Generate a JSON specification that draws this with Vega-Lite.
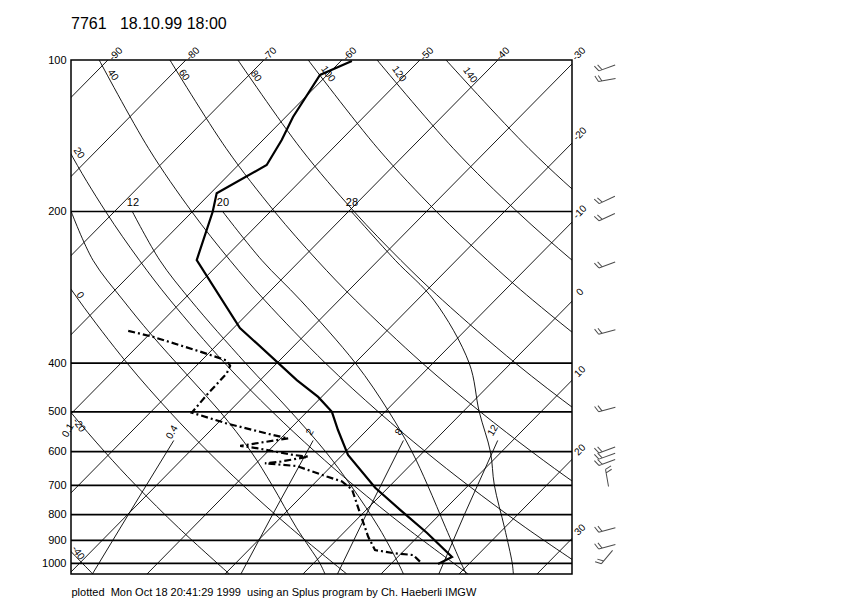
{
  "$schema": "https://vega.github.io/schema/vega-lite/v6.json",
  "width": 501,
  "height": 514,
  "autosize": {"type": "none"},
  "padding": {"left": 71, "top": 60, "right": 276, "bottom": 27},
  "background": "white",
  "title": {"text": "7761\u00a0\u00a0\u00a018.10.99 18:00", "anchor": "start", "frame": "group", "font": "Liberation Sans", "fontSize": 16, "fontWeight": "normal", "color": "black", "offset": 13},
  "config": {
    "view": {"stroke": "black", "strokeWidth": 1.5},
    "font": "Liberation Sans",
    "axisX": {"labels": false, "ticks": false, "domain": false, "grid": false, "titleAnchor": "start", "titleFont": "Liberation Sans", "titleFontSize": 11, "titleFontWeight": "normal", "titleColor": "black", "titlePadding": 12},
    "axisY": {"ticks": false, "domain": false, "grid": false, "labelFont": "Liberation Sans", "labelFontSize": 11, "labelColor": "black", "labelPadding": 5},
    "text": {"font": "Liberation Sans", "fontSize": 10, "color": "black"}
  },
  "datasets": {
    "isobars": [{"p": 200}, {"p": 400}, {"p": 500}, {"p": 600}, {"p": 700}, {"p": 800}, {"p": 900}, {"p": 1000}],
    "iso": [
      {"T": -90, "p": 100}, {"T": -90, "p": 1050}, {"T": -80, "p": 100}, {"T": -80, "p": 1050},
      {"T": -70, "p": 100}, {"T": -70, "p": 1050}, {"T": -60, "p": 100}, {"T": -60, "p": 1050},
      {"T": -50, "p": 100}, {"T": -50, "p": 1050}, {"T": -40, "p": 100}, {"T": -40, "p": 1050},
      {"T": -30, "p": 100}, {"T": -30, "p": 1050}, {"T": -20, "p": 100}, {"T": -20, "p": 1050},
      {"T": -10, "p": 100}, {"T": -10, "p": 1050}, {"T": 0, "p": 100}, {"T": 0, "p": 1050},
      {"T": 10, "p": 100}, {"T": 10, "p": 1050}, {"T": 20, "p": 100}, {"T": 20, "p": 1050},
      {"T": 30, "p": 100}, {"T": 30, "p": 1050}
    ],
    "dry": [
      {"th": -40, "p": 100, "T": -128.77}, {"th": -40, "p": 150, "T": -114.84}, {"th": -40, "p": 200, "T": -104.16}, {"th": -40, "p": 250, "T": -95.38}, {"th": -40, "p": 300, "T": -87.87}, {"th": -40, "p": 400, "T": -75.38}, {"th": -40, "p": 500, "T": -65.10}, {"th": -40, "p": 600, "T": -56.31}, {"th": -40, "p": 700, "T": -48.59}, {"th": -40, "p": 850, "T": -38.47}, {"th": -40, "p": 1050, "T": -26.94},
      {"th": -20, "p": 100, "T": -118.51}, {"th": -20, "p": 150, "T": -103.60}, {"th": -20, "p": 200, "T": -92.16}, {"th": -20, "p": 250, "T": -82.75}, {"th": -20, "p": 300, "T": -74.71}, {"th": -20, "p": 400, "T": -61.33}, {"th": -20, "p": 500, "T": -50.32}, {"th": -20, "p": 600, "T": -40.90}, {"th": -20, "p": 700, "T": -32.63}, {"th": -20, "p": 850, "T": -21.79}, {"th": -20, "p": 1050, "T": -9.44},
      {"th": 0, "p": 100, "T": -109.68}, {"th": 0, "p": 150, "T": -93.91}, {"th": 0, "p": 200, "T": -81.82}, {"th": 0, "p": 250, "T": -71.87}, {"th": 0, "p": 300, "T": -63.37}, {"th": 0, "p": 400, "T": -49.23}, {"th": 0, "p": 500, "T": -37.59}, {"th": 0, "p": 600, "T": -27.63}, {"th": 0, "p": 700, "T": -18.89}, {"th": 0, "p": 850, "T": -7.43}, {"th": 0, "p": 1050, "T": 5.62},
      {"th": 20, "p": 100, "T": -100.55}, {"th": 20, "p": 150, "T": -83.90}, {"th": 20, "p": 200, "T": -71.13}, {"th": 20, "p": 250, "T": -60.63}, {"th": 20, "p": 300, "T": -51.65}, {"th": 20, "p": 400, "T": -36.72}, {"th": 20, "p": 500, "T": -24.43}, {"th": 20, "p": 600, "T": -13.92}, {"th": 20, "p": 700, "T": -4.69}, {"th": 20, "p": 850, "T": 7.41}, {"th": 20, "p": 1050, "T": 21.19},
      {"th": 40, "p": 100, "T": -91.12}, {"th": 40, "p": 150, "T": -73.56}, {"th": 40, "p": 200, "T": -60.10}, {"th": 40, "p": 250, "T": -49.02}, {"th": 40, "p": 300, "T": -39.55}, {"th": 40, "p": 400, "T": -23.81}, {"th": 40, "p": 500, "T": -10.84}, {"th": 40, "p": 600, "T": 0.24}, {"th": 40, "p": 700, "T": 9.97}, {"th": 40, "p": 850, "T": 22.73}, {"th": 40, "p": 1050, "T": 37.27},
      {"th": 60, "p": 100, "T": -82.05}, {"th": 60, "p": 150, "T": -63.61}, {"th": 60, "p": 200, "T": -49.48}, {"th": 60, "p": 250, "T": -37.85}, {"th": 60, "p": 300, "T": -27.91}, {"th": 60, "p": 400, "T": -11.38}, {"th": 60, "p": 500, "T": 2.23}, {"th": 60, "p": 600, "T": 13.86}, {"th": 60, "p": 700, "T": 24.08}, {"th": 60, "p": 850, "T": 37.48},
      {"th": 80, "p": 100, "T": -73.33}, {"th": 80, "p": 150, "T": -54.06}, {"th": 80, "p": 200, "T": -39.28}, {"th": 80, "p": 250, "T": -27.12}, {"th": 80, "p": 300, "T": -16.73}, {"th": 80, "p": 400, "T": 0.55}, {"th": 80, "p": 500, "T": 14.79}, {"th": 80, "p": 600, "T": 26.96}, {"th": 80, "p": 700, "T": 37.64},
      {"th": 100, "p": 100, "T": -64.32}, {"th": 100, "p": 150, "T": -44.17}, {"th": 100, "p": 200, "T": -28.73}, {"th": 100, "p": 250, "T": -16.02}, {"th": 100, "p": 300, "T": -5.16}, {"th": 100, "p": 400, "T": 12.90}, {"th": 100, "p": 500, "T": 27.78}, {"th": 100, "p": 600, "T": 40.49},
      {"th": 120, "p": 100, "T": -55.49}, {"th": 120, "p": 150, "T": -34.49}, {"th": 120, "p": 200, "T": -18.39}, {"th": 120, "p": 250, "T": -5.15}, {"th": 120, "p": 300, "T": 6.18}, {"th": 120, "p": 400, "T": 25.0}, {"th": 120, "p": 500, "T": 40.51},
      {"th": 140, "p": 100, "T": -46.65}, {"th": 140, "p": 150, "T": -24.80}, {"th": 140, "p": 200, "T": -8.05}, {"th": 140, "p": 250, "T": 5.73}, {"th": 140, "p": 300, "T": 17.51}, {"th": 140, "p": 400, "T": 37.10}
    ],
    "moist": [
      {"w": 4, "p": 200, "T": -75.55}, {"w": 4, "p": 250, "T": -66.58}, {"w": 4, "p": 300, "T": -57.69}, {"w": 4, "p": 350, "T": -49.90}, {"w": 4, "p": 424, "T": -39.81}, {"w": 4, "p": 500, "T": -31.12}, {"w": 4, "p": 600, "T": -22.13}, {"w": 4, "p": 700, "T": -15.15}, {"w": 4, "p": 850, "T": -6.67}, {"w": 4, "p": 1000, "T": 0.82}, {"w": 4, "p": 1050, "T": 2.82},
      {"w": 12, "p": 200, "T": -67.71}, {"w": 12, "p": 250, "T": -58.02}, {"w": 12, "p": 300, "T": -49.04}, {"w": 12, "p": 400, "T": -34.05}, {"w": 12, "p": 500, "T": -22.06}, {"w": 12, "p": 600, "T": -12.57}, {"w": 12, "p": 700, "T": -5.08}, {"w": 12, "p": 850, "T": 3.90}, {"w": 12, "p": 1000, "T": 10.88}, {"w": 12, "p": 1050, "T": 12.88},
      {"w": 20, "p": 200, "T": -56.13}, {"w": 20, "p": 250, "T": -44.94}, {"w": 20, "p": 300, "T": -34.95}, {"w": 20, "p": 400, "T": -19.96}, {"w": 20, "p": 500, "T": -9.48}, {"w": 20, "p": 600, "T": -1.50}, {"w": 20, "p": 700, "T": 4.78}, {"w": 20, "p": 850, "T": 12.46}, {"w": 20, "p": 1000, "T": 18.94}, {"w": 20, "p": 1050, "T": 20.93},
      {"w": 28, "p": 200, "T": -39.63}, {"w": 28, "p": 250, "T": -27.83}, {"w": 28, "p": 300, "T": -17.84}, {"w": 28, "p": 400, "T": -5.37}, {"w": 28, "p": 500, "T": 2.09}, {"w": 28, "p": 600, "T": 8.56}, {"w": 28, "p": 700, "T": 13.33}, {"w": 28, "p": 850, "T": 20.0}, {"w": 28, "p": 1000, "T": 25.48}, {"w": 28, "p": 1050, "T": 26.97}
    ],
    "mix": [
      {"w": 0.4, "p": 1050, "T": -27.0}, {"w": 0.4, "p": 800, "T": -29.9}, {"w": 0.4, "p": 570, "T": -33.45},
      {"w": 2, "p": 1050, "T": -7.96}, {"w": 2, "p": 800, "T": -11.41}, {"w": 2, "p": 570, "T": -15.58},
      {"w": 8, "p": 1050, "T": 4.42}, {"w": 8, "p": 800, "T": 0.59}, {"w": 8, "p": 570, "T": -4.01},
      {"w": 12, "p": 1050, "T": 17.41}, {"w": 12, "p": 800, "T": 13.18}, {"w": 12, "p": 570, "T": 8.08}
    ],
    "temp": [
      {"p": 100.5, "T": -58.58}, {"p": 107.1, "T": -60.91}, {"p": 129.8, "T": -59.06}, {"p": 144.2, "T": -57.60}, {"p": 161.7, "T": -56.36}, {"p": 184.0, "T": -59.20}, {"p": 200.2, "T": -57.38}, {"p": 249.7, "T": -53.32}, {"p": 341.0, "T": -39.17}, {"p": 359.9, "T": -36.0}, {"p": 432.6, "T": -25.30}, {"p": 467.0, "T": -20.45}, {"p": 500, "T": -16.80}, {"p": 543.4, "T": -13.72}, {"p": 609.1, "T": -9.28}, {"p": 707.8, "T": -1.64}, {"p": 783.0, "T": 4.35}, {"p": 870.2, "T": 10.72}, {"p": 971.6, "T": 16.96}, {"p": 1003.2, "T": 16.05}
    ],
    "dew": [
      {"p": 345.2, "T": -53.15}, {"p": 354.9, "T": -49.19}, {"p": 379.6, "T": -41.30}, {"p": 395.5, "T": -36.75}, {"p": 405.1, "T": -35.66}, {"p": 419.1, "T": -35.15}, {"p": 463.1, "T": -34.97}, {"p": 501.9, "T": -34.66}, {"p": 527.3, "T": -28.83}, {"p": 556.2, "T": -21.37}, {"p": 564.7, "T": -19.04}, {"p": 569.1, "T": -20.31}, {"p": 584.3, "T": -24.25}, {"p": 590.5, "T": -21.82}, {"p": 609.1, "T": -16.29}, {"p": 613.9, "T": -14.15}, {"p": 628.2, "T": -17.14}, {"p": 632.9, "T": -18.87}, {"p": 640.8, "T": -14.45}, {"p": 672.4, "T": -9.26}, {"p": 687.6, "T": -6.70}, {"p": 713.8, "T": -4.37}, {"p": 795.4, "T": -0.36}, {"p": 885.7, "T": 3.66}, {"p": 941.0, "T": 6.20}, {"p": 955.3, "T": 9.18}, {"p": 962.7, "T": 11.74}, {"p": 1000, "T": 13.87}
    ],
    "labIso": [
      {"t": "-90", "p": 97.3, "T": -89.72}, {"t": "-80", "p": 97.3, "T": -79.85}, {"t": "-70", "p": 97.3, "T": -69.98}, {"t": "-60", "p": 97.3, "T": -59.72}, {"t": "-50", "p": 97.3, "T": -49.85}, {"t": "-40", "p": 97.3, "T": -40.11}, {"t": "-30", "p": 97.3, "T": -30.36},
      {"t": "-20", "p": 140.3, "T": -20.11}, {"t": "-10", "p": 200.6, "T": -10.23}, {"t": "0", "p": 289.3, "T": -0.11}, {"t": "10", "p": 416.1, "T": 9.94}, {"t": "20", "p": 595.2, "T": 19.83}, {"t": "30", "p": 858.2, "T": 29.94}
    ],
    "labDry": [
      {"t": "40", "p": 107.1, "T": -87.45}, {"t": "60", "p": 107.1, "T": -78.34}, {"t": "80", "p": 107.6, "T": -68.99}, {"t": "100", "p": 106.6, "T": -60.01}, {"t": "120", "p": 106.6, "T": -50.91}, {"t": "140", "p": 107.1, "T": -41.68},
      {"t": "20", "p": 153.1, "T": -81.93}, {"t": "0", "p": 293.3, "T": -63.84}, {"t": "-20", "p": 531.6, "T": -47.52}, {"t": "-40", "p": 953.9, "T": -31.49}
    ],
    "labMoist": [
      {"t": "12", "p": 192.4, "T": -68.70}, {"t": "20", "p": 192.4, "T": -57.16}, {"t": "28", "p": 192.4, "T": -40.62}
    ],
    "labMix": [
      {"t": "0.1", "p": 544.4, "T": -48.28}, {"t": "0.4", "p": 548.8, "T": -34.72}, {"t": "2", "p": 548.8, "T": -17.03}, {"t": "8", "p": 548.8, "T": -5.62}, {"t": "12", "p": 544.4, "T": 6.20}
    ],
    "barbs": [
      {"p": 103.7, "dir": -20}, {"p": 109.6, "dir": -10}, {"p": 189.7, "dir": -25}, {"p": 205.2, "dir": -25}, {"p": 255.4, "dir": -20}, {"p": 347.1, "dir": -15}, {"p": 494.7, "dir": -15}, {"p": 595.4, "dir": -20}, {"p": 612.5, "dir": -20}, {"p": 630.4, "dir": -20}, {"p": 676.6, "dir": 80}, {"p": 858.2, "dir": -15}, {"p": 926.8, "dir": -15}, {"p": 971.6, "dir": -50}
    ]
  },
  "encoding": {
    "y": {"field": "p", "type": "quantitative", "scale": {"type": "log", "domain": [100, 1050], "reverse": true, "nice": false}, "axis": {"values": [100, 200, 400, 500, 600, 700, 800, 900, 1000], "format": "d", "title": null}}
  },
  "layer": [
    {
      "data": {"name": "iso"},
      "transform": [{"calculate": "datum.T + 63.64*log(1000/datum.p)/LN10", "as": "X"}],
      "mark": {"type": "line", "clip": true, "color": "black", "strokeWidth": 0.9},
      "encoding": {
        "x": {"field": "X", "type": "quantitative", "scale": {"domain": [-31.09, 33.14], "nice": false, "zero": false}, "title": "\u00a0plotted\u00a0 Mon Oct 18 20:41:29 1999\u00a0 using an Splus program by Ch. Haeberli IMGW"},
        "detail": {"field": "T"},
        "order": {"field": "p"}
      }
    },
    {
      "data": {"name": "dry"},
      "transform": [{"calculate": "datum.T + 63.64*log(1000/datum.p)/LN10", "as": "X"}],
      "mark": {"type": "line", "clip": true, "color": "black", "strokeWidth": 0.9, "interpolate": "catmull-rom"},
      "encoding": {
        "x": {"field": "X", "type": "quantitative", "title": "\u00a0plotted\u00a0 Mon Oct 18 20:41:29 1999\u00a0 using an Splus program by Ch. Haeberli IMGW"},
        "detail": {"field": "th"},
        "order": {"field": "p"}
      }
    },
    {
      "data": {"name": "moist"},
      "transform": [{"calculate": "datum.T + 63.64*log(1000/datum.p)/LN10", "as": "X"}],
      "mark": {"type": "line", "clip": true, "color": "black", "strokeWidth": 0.9, "interpolate": "catmull-rom"},
      "encoding": {
        "x": {"field": "X", "type": "quantitative", "title": "\u00a0plotted\u00a0 Mon Oct 18 20:41:29 1999\u00a0 using an Splus program by Ch. Haeberli IMGW"},
        "detail": {"field": "w"},
        "order": {"field": "p"}
      }
    },
    {
      "data": {"name": "mix"},
      "transform": [{"calculate": "datum.T + 63.64*log(1000/datum.p)/LN10", "as": "X"}],
      "mark": {"type": "line", "clip": true, "color": "black", "strokeWidth": 0.9},
      "encoding": {
        "x": {"field": "X", "type": "quantitative", "title": "\u00a0plotted\u00a0 Mon Oct 18 20:41:29 1999\u00a0 using an Splus program by Ch. Haeberli IMGW"},
        "detail": {"field": "w"},
        "order": {"field": "p"}
      }
    },
    {
      "data": {"name": "isobars"},
      "mark": {"type": "rule", "color": "black", "strokeWidth": 1.7}
    },
    {
      "data": {"name": "labIso"},
      "transform": [{"calculate": "datum.T + 63.64*log(1000/datum.p)/LN10", "as": "X"}],
      "mark": {"type": "text", "angle": -45, "align": "center", "baseline": "middle", "fontSize": 10},
      "encoding": {
        "x": {"field": "X", "type": "quantitative", "title": "\u00a0plotted\u00a0 Mon Oct 18 20:41:29 1999\u00a0 using an Splus program by Ch. Haeberli IMGW"},
        "text": {"field": "t"}
      }
    },
    {
      "data": {"name": "labDry"},
      "transform": [{"calculate": "datum.T + 63.64*log(1000/datum.p)/LN10", "as": "X"}],
      "mark": {"type": "text", "angle": 55, "align": "center", "baseline": "middle", "fontSize": 10},
      "encoding": {
        "x": {"field": "X", "type": "quantitative", "title": "\u00a0plotted\u00a0 Mon Oct 18 20:41:29 1999\u00a0 using an Splus program by Ch. Haeberli IMGW"},
        "text": {"field": "t"}
      }
    },
    {
      "data": {"name": "labMoist"},
      "transform": [{"calculate": "datum.T + 63.64*log(1000/datum.p)/LN10", "as": "X"}],
      "mark": {"type": "text", "align": "center", "baseline": "middle", "fontSize": 11},
      "encoding": {
        "x": {"field": "X", "type": "quantitative", "title": "\u00a0plotted\u00a0 Mon Oct 18 20:41:29 1999\u00a0 using an Splus program by Ch. Haeberli IMGW"},
        "text": {"field": "t"}
      }
    },
    {
      "data": {"name": "labMix"},
      "transform": [{"calculate": "datum.T + 63.64*log(1000/datum.p)/LN10", "as": "X"}],
      "mark": {"type": "text", "angle": -60, "align": "center", "baseline": "middle", "fontSize": 10},
      "encoding": {
        "x": {"field": "X", "type": "quantitative", "title": "\u00a0plotted\u00a0 Mon Oct 18 20:41:29 1999\u00a0 using an Splus program by Ch. Haeberli IMGW"},
        "text": {"field": "t"}
      }
    },
    {
      "data": {"name": "temp"},
      "transform": [{"calculate": "datum.T + 63.64*log(1000/datum.p)/LN10", "as": "X"}],
      "mark": {"type": "line", "color": "black", "strokeWidth": 2.2},
      "encoding": {
        "x": {"field": "X", "type": "quantitative", "title": "\u00a0plotted\u00a0 Mon Oct 18 20:41:29 1999\u00a0 using an Splus program by Ch. Haeberli IMGW"},
        "order": {"field": "p"}
      }
    },
    {
      "data": {"name": "dew"},
      "transform": [{"calculate": "datum.T + 63.64*log(1000/datum.p)/LN10", "as": "X"}],
      "mark": {"type": "line", "color": "black", "strokeWidth": 2.2, "strokeDash": [7, 3, 2, 3]},
      "encoding": {
        "x": {"field": "X", "type": "quantitative", "title": "\u00a0plotted\u00a0 Mon Oct 18 20:41:29 1999\u00a0 using an Splus program by Ch. Haeberli IMGW"},
        "order": {"field": "p"}
      }
    },
    {
      "data": {"name": "barbs"},
      "mark": {"type": "point", "shape": "M1,0L-1,0M-1,0L-1.3,-0.7M-0.6,0L-0.9,-0.7", "filled": false, "color": "black", "strokeWidth": 1, "size": 300},
      "encoding": {
        "x": {"datum": 37.63, "type": "quantitative"},
        "angle": {"field": "dir", "type": "quantitative", "scale": null}
      }
    }
  ]
}
